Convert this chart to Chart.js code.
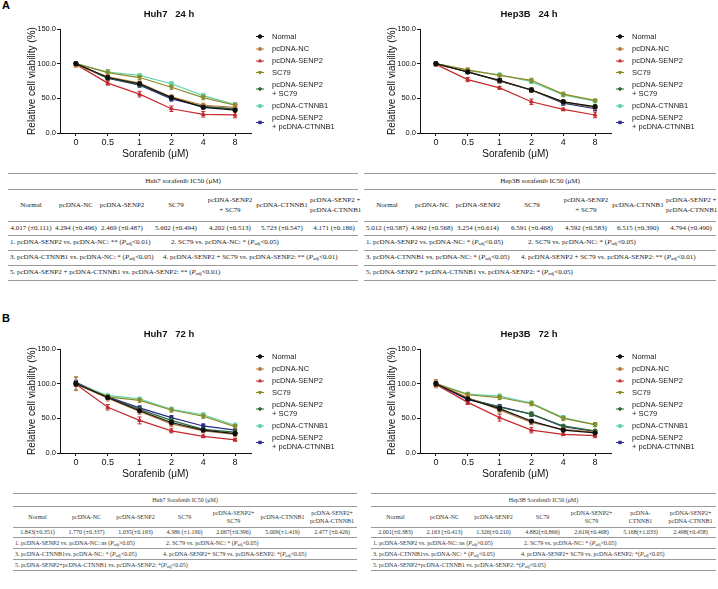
<!DOCTYPE html>
<html>
<head>
<meta charset="utf-8">
<script src="https://cdn.jsdelivr.net/npm/chart.js@4.4.1/dist/chart.umd.min.js"></script>
<style>
  body { margin: 0; background: #fff; width: 718px; height: 589px; position: relative; overflow: hidden; }
  canvas { position: absolute; }
  .letter { position: absolute; font: bold 11px "Liberation Sans", Arial, sans-serif; color: #000; }
  table { position: absolute; border-collapse: collapse; table-layout: fixed; font-family: "Liberation Serif", "Times New Roman", serif; color: #222; }
  td { padding: 0; text-align: center; vertical-align: middle; white-space: nowrap; border-top: 1px solid #9a9a9a; border-bottom: 1px solid #9a9a9a; line-height: 1.35; }
  td.note { text-align: left; padding-left: 2px; }
  td.note span { display: inline-block; }
  sub { font-size: 70%; vertical-align: -0.25em; line-height: 0; }
</style>
</head>
<body>
<div class="letter" style="left:2px;top:-1px">A</div>
<div class="letter" style="left:2px;top:312px">B</div>
<canvas id="huh24" width="360" height="165" style="left:0;top:0"></canvas>
<canvas id="hep24" width="358" height="165" style="left:360px;top:0"></canvas>
<canvas id="huh72" width="360" height="165" style="left:0;top:320px"></canvas>
<canvas id="hep72" width="358" height="165" style="left:360px;top:320px"></canvas>

<script>
// x categories (Sorafenib, µM)
const doses = ['0', '0.5', '1', '2', '4', '8'];
const seriesNames = ['Normal', 'pcDNA-NC', 'pcDNA-SENP2', 'SC79', ['pcDNA-SENP2', '+ SC79'], 'pcDNA-CTNNB1', ['pcDNA-SENP2', '+ pcDNA-CTNNB1']];
const yTicks = [0, 50, 100, 150];

// Huh7 24 h, mean
const huh24_normal = [100, 80, 71, 51, 37, 33];
const huh24_nc = [98, 81, 72, 52, 40, 37];
const huh24_senp2 = [99, 72, 56, 35, 27, 26];
const huh24_sc79 = [100, 87, 80, 66, 51, 40];
const huh24_senp2sc79 = [100, 79, 70, 51, 38, 35];
const huh24_ctnnb1 = [100, 88, 83, 71, 54, 41];
const huh24_senp2ctnnb1 = [100, 79, 69, 49, 38, 35];
// Huh7 24 h, error
const huh24_normal_sd = [2, 2, 2, 2, 2, 2];
const huh24_nc_sd = [3, 3, 3, 3, 3, 3];
const huh24_senp2_sd = [2, 3, 4, 4, 4, 4];
const huh24_sc79_sd = [3, 4, 3, 3, 3, 3];
const huh24_senp2sc79_sd = [2, 3, 3, 3, 3, 3];
const huh24_ctnnb1_sd = [2, 3, 2, 3, 3, 3];
const huh24_senp2ctnnb1_sd = [2, 2, 3, 3, 3, 3];

// Hep3B 24 h, mean
const hep24_normal = [100, 88, 76, 62, 45, 38];
const hep24_nc = [99, 89, 75, 62, 45, 37];
const hep24_senp2 = [99, 77, 65, 45, 34, 26];
const hep24_sc79 = [100, 91, 83, 76, 56, 47];
const hep24_senp2sc79 = [100, 88, 75, 62, 44, 37];
const hep24_ctnnb1 = [100, 90, 84, 74, 55, 46];
const hep24_senp2ctnnb1 = [100, 88, 75, 62, 43, 35];
// Hep3B 24 h, error
const hep24_normal_sd = [2, 2, 2, 2, 2, 2];
const hep24_nc_sd = [3, 3, 3, 3, 3, 3];
const hep24_senp2_sd = [2, 3, 2, 4, 2, 4];
const hep24_sc79_sd = [3, 3, 2, 3, 3, 2];
const hep24_senp2sc79_sd = [2, 2, 3, 3, 3, 3];
const hep24_ctnnb1_sd = [2, 2, 2, 2, 2, 2];
const hep24_senp2ctnnb1_sd = [2, 2, 2, 3, 3, 3];

// Huh7 72 h, mean
const huh72_normal = [100, 80, 61, 44, 33, 28];
const huh72_nc = [100, 79, 60, 42, 32, 27];
const huh72_senp2 = [99, 66, 47, 32, 24, 19];
const huh72_sc79 = [100, 81, 76, 62, 53, 38];
const huh72_senp2sc79 = [100, 80, 63, 47, 34, 30];
const huh72_ctnnb1 = [100, 83, 78, 63, 55, 40];
const huh72_senp2ctnnb1 = [102, 81, 65, 51, 39, 33];
// Huh7 72 h, error
const huh72_normal_sd = [3, 2, 2, 2, 2, 2];
const huh72_nc_sd = [10, 4, 4, 4, 3, 3];
const huh72_senp2_sd = [3, 4, 5, 3, 2, 2];
const huh72_sc79_sd = [9, 3, 3, 3, 3, 3];
const huh72_senp2sc79_sd = [3, 2, 3, 3, 2, 2];
const huh72_ctnnb1_sd = [3, 2, 2, 3, 3, 3];
const huh72_senp2ctnnb1_sd = [3, 2, 3, 3, 3, 3];

// Hep3B 72 h, mean
const hep72_normal = [100, 78, 64, 46, 33, 29];
const hep72_nc = [100, 80, 62, 44, 34, 30];
const hep72_senp2 = [99, 73, 51, 33, 27, 25];
const hep72_sc79 = [100, 84, 80, 71, 50, 41];
const hep72_senp2sc79 = [100, 79, 66, 56, 39, 32];
const hep72_ctnnb1 = [100, 85, 82, 72, 51, 41];
const hep72_senp2ctnnb1 = [100, 77, 67, 56, 38, 31];
// Hep3B 72 h, error
const hep72_normal_sd = [3, 2, 3, 2, 2, 2];
const hep72_nc_sd = [6, 3, 4, 3, 2, 2];
const hep72_senp2_sd = [3, 3, 5, 4, 2, 3];
const hep72_sc79_sd = [4, 3, 3, 3, 3, 3];
const hep72_senp2sc79_sd = [3, 2, 3, 3, 2, 2];
const hep72_ctnnb1_sd = [3, 2, 3, 3, 3, 3];
const hep72_senp2ctnnb1_sd = [3, 2, 3, 3, 2, 2];

// IC50 tables
const groupsA = ['Normal', 'pcDNA-NC', 'pcDNA-SENP2', 'SC79', 'pcDNA-SENP2\n+ SC79', 'pcDNA-CTNNB1', 'pcDNA-SENP2 +\npcDNA-CTNNB1'];
const groupsBHuh = ['Normal', 'pcDNA-NC', 'pcDNA-SENP2', 'SC79', 'pcDNA-SENP2+\nSC79', 'pcDNA-CTNNB1', 'pcDNA-SENP2+\npcDNA-CTNNB1'];
const groupsBHep = ['Normal', 'pcDNA-NC', 'pcDNA-SENP2', 'SC79', 'pcDNA-SENP2+\nSC79', 'pcDNA-\nCTNNB1', 'pcDNA-SENP2+\npcDNA-CTNNB1'];
const ic50_huh24 = ['4.017 (±0.111)', '4.294 (±0.496)', '2.469 (±0.487)', '5.602 (±0.494)', '4.202 (±0.513)', '5.723 (±0.547)', '4.171 (±0.186)'];
const ic50_hep24 = ['5.012 (±0.587)', '4.992 (±0.568)', '3.254 (±0.614)', '6.591 (±0.468)', '4.592 (±0.583)', '6.515 (±0.390)', '4.794 (±0.490)'];
const ic50_huh72 = ['1.843(±0.351)', '1.770 (±0.337)', '1.035(±0.193)', '4.386 (±1.190)', '2.067(±0.396)', '5.009(±1.419)', '2.477 (±0.426)'];
const ic50_hep72 = ['2.001(±0.383)', '2.163 (±0.413)', '1.326(±0.210)', '4.882(±0.866)', '2.619(±0.468)', '5.168(±1.033)', '2.498(±0.458)'];
const P = '<i>P</i><sub>adj</sub>';
const notes_huh24 = [
  ['1. pcDNA-SENP2 vs. pcDNA-NC: ** (' + P + '<0.01)', '2. SC79 vs. pcDNA-NC: * (' + P + '<0.05)'],
  ['3. pcDNA-CTNNB1 vs. pcDNA-NC: * (' + P + '<0.05)', '4. pcDNA-SENP2 + SC79 vs. pcDNA-SENP2: ** (' + P + '<0.01)'],
  ['5. pcDNA-SENP2 + pcDNA-CTNNB1 vs. pcDNA-SENP2: ** (' + P + '<0.01)']
];
const notes_hep24 = [
  ['1. pcDNA-SENP2 vs. pcDNA-NC: * (' + P + '<0.05)', '2. SC79 vs. pcDNA-NC: * (' + P + '<0.05)'],
  ['3. pcDNA-CTNNB1 vs. pcDNA-NC: * (' + P + '<0.05)', '4. pcDNA-SENP2 + SC79 vs. pcDNA-SENP2: ** (' + P + '<0.01)'],
  ['5. pcDNA-SENP2 + pcDNA-CTNNB1 vs. pcDNA-SENP2: * (' + P + '<0.05)']
];
const notes_72 = [
  ['1. pcDNA-SENP2 vs. pcDNA-NC: ns (' + P + '>0.05)', '2. SC79 vs. pcDNA-NC: * (' + P + '<0.05)'],
  ['3. pcDNA-CTNNB1vs. pcDNA-NC: * (' + P + '<0.05)', '4. pcDNA-SENP2+ SC79 vs. pcDNA-SENP2: *(' + P + '<0.05)'],
  ['5. pcDNA-SENP2+pcDNA-CTNNB1 vs. pcDNA-SENP2: *(' + P + '<0.05)']
];

const colors = ['#111111', '#b97b3c', '#c42a2e', '#8d8a24', '#2b6b36', '#62d6a6', '#2c2c8e'];
const markers = ['circle', 'rect', 'triangle', 'triangle', 'rectRot', 'circle', 'rect'];
const rotations = [0, 0, 0, 180, 0, 0, 0];

const errorBars = {
  id: 'errorBars',
  afterDatasetDraw(chart, args) {
    const ds = chart.data.datasets[args.index];
    const y = chart.scales.y;
    const ctx = chart.ctx;
    ctx.save();
    ctx.strokeStyle = ds.borderColor;
    ctx.lineWidth = 1;
    args.meta.data.forEach((pt, j) => {
      const t = y.getPixelForValue(ds.data[j] + ds.sd[j]);
      const b = y.getPixelForValue(ds.data[j] - ds.sd[j]);
      ctx.beginPath();
      ctx.moveTo(pt.x, t); ctx.lineTo(pt.x, b);
      ctx.moveTo(pt.x - 2, t); ctx.lineTo(pt.x + 2, t);
      ctx.moveTo(pt.x - 2, b); ctx.lineTo(pt.x + 2, b);
      ctx.stroke();
    });
    ctx.restore();
  }
};

const sideLegend = {
  id: 'sideLegend',
  afterDraw(chart, args, opts) {
    const ctx = chart.ctx;
    ctx.save();
    ctx.font = 'bold 9.5px "Liberation Sans", Arial';
    ctx.fillStyle = '#111';
    ctx.textAlign = 'center';
    ctx.textBaseline = 'middle';
    ctx.fillText(opts.title, opts.titleX, 14);
    ctx.font = '7.5px "Liberation Sans", Arial';
    ctx.textAlign = 'left';
    chart.data.datasets.forEach((ds, i) => {
      const yc = opts.rows[i];
      ctx.strokeStyle = ds.borderColor;
      ctx.fillStyle = ds.backgroundColor;
      ctx.lineWidth = 1;
      ctx.beginPath();
      ctx.moveTo(opts.x, yc); ctx.lineTo(opts.x + 8, yc);
      ctx.stroke();
      Chart.helpers.drawPoint(ctx, { pointStyle: ds.pointStyle, rotation: ds.pointRotation, radius: 1.8, borderWidth: 0.8 }, opts.x + 4, yc);
      ctx.fillStyle = '#222';
      const lines = ds.lines;
      lines.forEach((l, k) => ctx.fillText(l, opts.x + 16, yc + (k - (lines.length - 1) / 2) * 9));
    });
    ctx.restore();
  }
};

function makeChart(id, title, means, sds) {
  const cv = document.getElementById(id);
  const datasets = means.map((m, i) => ({
    label: [].concat(seriesNames[i]).join(' '),
    lines: [].concat(seriesNames[i]),
    data: m,
    sd: sds[i],
    borderColor: colors[i],
    backgroundColor: colors[i],
    borderWidth: 1.2,
    pointStyle: markers[i],
    pointRotation: rotations[i],
    pointRadius: 2.2,
    pointBorderWidth: 1
  }));
  new Chart(cv, {
    type: 'line',
    data: { labels: doses, datasets: datasets },
    options: {
      responsive: false,
      animation: false,
      layout: { padding: { top: 29, left: 0, right: cv.width - 251, bottom: 0 } },
      plugins: {
        legend: { display: false },
        tooltip: { enabled: false },
        sideLegend: { title: title, titleX: 169, x: 256, rows: [36.5, 49, 61, 72.5, 89, 106, 122.5] }
      },
      scales: {
        x: {
          offset: true,
          afterFit: s => { s.height = 32; },
          grid: { drawOnChartArea: false, offset: false, tickLength: 3, color: '#111' },
          border: { color: '#111', width: 1 },
          ticks: { color: '#111', font: { size: 9 }, padding: 1, maxRotation: 0 },
          title: { display: true, text: 'Sorafenib (μM)', color: '#111', font: { size: 10 }, padding: { bottom: 5 } }
        },
        y: {
          min: 0, max: 150,
          afterFit: s => { s.width = 60; },
          afterBuildTicks: s => { s.ticks = yTicks.map(v => ({ value: v })); },
          grid: { drawOnChartArea: false, tickLength: 3, color: '#111' },
          border: { color: '#111', width: 1 },
          ticks: { color: '#111', font: { size: 7.5 }, padding: 1, callback: v => v.toFixed(1) },
          title: { display: true, text: 'Relative cell viability (%)', color: '#111', font: { size: 10 }, padding: { top: 26 } }
        }
      }
    },
    plugins: [errorBars, sideLegend]
  });
}

Chart.defaults.font.family = '"Liberation Sans", Arial, sans-serif';

makeChart('huh24', 'Huh7   24 h',
  [huh24_normal, huh24_nc, huh24_senp2, huh24_sc79, huh24_senp2sc79, huh24_ctnnb1, huh24_senp2ctnnb1],
  [huh24_normal_sd, huh24_nc_sd, huh24_senp2_sd, huh24_sc79_sd, huh24_senp2sc79_sd, huh24_ctnnb1_sd, huh24_senp2ctnnb1_sd]);
makeChart('hep24', 'Hep3B   24 h',
  [hep24_normal, hep24_nc, hep24_senp2, hep24_sc79, hep24_senp2sc79, hep24_ctnnb1, hep24_senp2ctnnb1],
  [hep24_normal_sd, hep24_nc_sd, hep24_senp2_sd, hep24_sc79_sd, hep24_senp2sc79_sd, hep24_ctnnb1_sd, hep24_senp2ctnnb1_sd]);
makeChart('huh72', 'Huh7   72 h',
  [huh72_normal, huh72_nc, huh72_senp2, huh72_sc79, huh72_senp2sc79, huh72_ctnnb1, huh72_senp2ctnnb1],
  [huh72_normal_sd, huh72_nc_sd, huh72_senp2_sd, huh72_sc79_sd, huh72_senp2sc79_sd, huh72_ctnnb1_sd, huh72_senp2ctnnb1_sd]);
makeChart('hep72', 'Hep3B   72 h',
  [hep72_normal, hep72_nc, hep72_senp2, hep72_sc79, hep72_senp2sc79, hep72_ctnnb1, hep72_senp2ctnnb1],
  [hep72_normal_sd, hep72_nc_sd, hep72_senp2_sd, hep72_sc79_sd, hep72_senp2sc79_sd, hep72_ctnnb1_sd, hep72_senp2ctnnb1_sd]);

function buildTable(t) {
  const tb = document.createElement('table');
  tb.style.left = t.left + 'px';
  tb.style.top = t.top + 'px';
  tb.style.width = t.width + 'px';
  tb.style.fontSize = t.font + 'px';
  tb.style.color = t.color;
  let html = '<colgroup>' + t.cols.map(w => '<col style="width:' + w + 'px">').join('') + '</colgroup>';
  const h = t.rows;
  html += '<tr style="height:' + h[0] + 'px"><td colspan="7">' + t.title + '</td></tr>';
  html += '<tr style="height:' + h[1] + 'px">' + t.groups.map(g => '<td>' + g.replace('\n', '<br>') + '</td>').join('') + '</tr>';
  html += '<tr style="height:' + h[2] + 'px">' + t.values.map(v => '<td>' + v + '</td>').join('') + '</tr>';
  t.notes.forEach((n, i) => {
    html += '<tr style="height:' + h[3 + i] + 'px"><td class="note" colspan="7"><span style="width:' + t.split[i] + 'px">' + n[0] + '</span>' + (n[1] ? '<span>' + n[1] + '</span>' : '') + '</td></tr>';
  });
  tb.innerHTML = html;
  document.body.appendChild(tb);
}

buildTable({ left: 8, top: 173, width: 350, font: 7, color: '#222', cols: [46, 44, 48, 60, 48, 56, 48], rows: [16, 32, 14, 15, 15, 15],
  title: 'Huh7 sorafenib IC50 (μM)', groups: groupsA, values: ic50_huh24, notes: notes_huh24, split: [161, 153, 0] });
buildTable({ left: 364, top: 173, width: 352, font: 7, color: '#222', cols: [46, 44, 48, 60, 48, 56, 50], rows: [16, 32, 14, 15, 15, 15],
  title: 'Hep3B sorafenib IC50 (μM)', groups: groupsA, values: ic50_hep24, notes: notes_hep24, split: [162, 155, 0] });
buildTable({ left: 13, top: 493, width: 344, font: 6, color: '#333', cols: [49, 49, 49, 49, 49, 49, 50], rows: [13, 21, 10, 11, 11, 11],
  title: 'Huh7 Sorafenib IC50 (μM)', groups: groupsBHuh, values: ic50_huh72, notes: notes_72, split: [151, 148, 0] });
buildTable({ left: 371, top: 493, width: 345, font: 6, color: '#333', cols: [49, 49, 49, 49, 49, 49, 51], rows: [13, 21, 10, 11, 11, 11],
  title: 'Hep3B Sorafenib IC50 (μM)', groups: groupsBHep, values: ic50_hep72, notes: notes_72, split: [151, 148, 0] });
</script>
</body>
</html>
